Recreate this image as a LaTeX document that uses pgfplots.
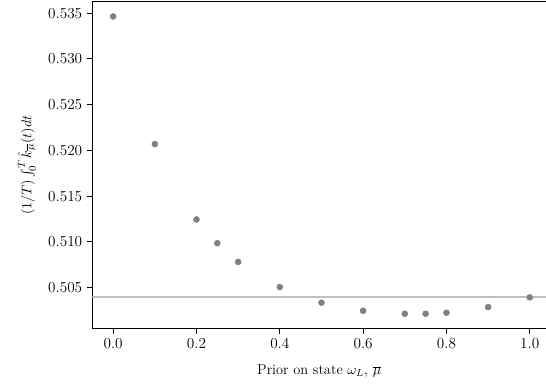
\documentclass[border=0pt]{standalone}
\usepackage{pgfplots}
\pgfplotsset{compat=1.18}
\definecolor{dotgray}{HTML}{808080}
\definecolor{linegray}{HTML}{C0C0C0}
\begin{document}
\begin{tikzpicture}
\begin{axis}[
  scale only axis,
  width=356.2pt, height=256.7pt,
  xmin=-0.05, xmax=1.0389,
  ymin=0.50053, ymax=0.53625,
  axis lines*=left,
  xtick={0,0.2,0.4,0.6,0.8,1.0},
  ytick={0.505,0.510,0.515,0.520,0.525,0.530,0.535},
  xticklabel style={font=\fontsize{12.5}{14}\selectfont, /pgf/number format/.cd,fixed,fixed zerofill,precision=1},
  yticklabel style={font=\fontsize{12.5}{14}\selectfont, /pgf/number format/.cd,fixed,fixed zerofill,precision=3},
  scaled y ticks=false,
  tick align=outside,
  xtick pos=bottom, ytick pos=left,
  major tick length=4.4pt,
  axis line style={line width=0.9pt, -},
  every tick/.style={black, line width=0.9pt},
  xlabel={Prior on state $\omega_L$, $\overline{\mu}$},
  ylabel={$(1/T)\int_0^T \hat{k}_{\overline{\mu}}(t)dt$},
  label style={font=\fontsize{11.3}{13}\selectfont},
  xlabel style={yshift=-6pt},
  ylabel style={yshift=3pt},
  clip=true,
]
\addplot[linegray, line width=1.5pt, forget plot] coordinates {(-0.1,0.50394) (1.2,0.50394)};
\addplot[only marks, mark=*, mark size=2.35pt, dotgray, mark options={draw=dotgray, fill=dotgray}] coordinates {
(0.0,0.53463)
(0.1,0.52069)
(0.2,0.51245)
(0.25,0.50986)
(0.3,0.50781)
(0.4,0.50507)
(0.5,0.50336)
(0.6,0.50248)
(0.7,0.50215)
(0.75,0.50215)
(0.8,0.50226)
(0.9,0.50288)
(1.0,0.50394)
};
\end{axis}
\draw[line width=0.9pt] ([xshift=-0.45pt]current axis.north west) -- ([xshift=2pt]current axis.north east);
\pgfresetboundingbox
\path[use as bounding box] ([shift={(-72.5pt,-44.2pt)}]current axis.south west) rectangle ([shift={(0pt,1.3pt)}]current axis.north east);
\end{tikzpicture}
\end{document}
